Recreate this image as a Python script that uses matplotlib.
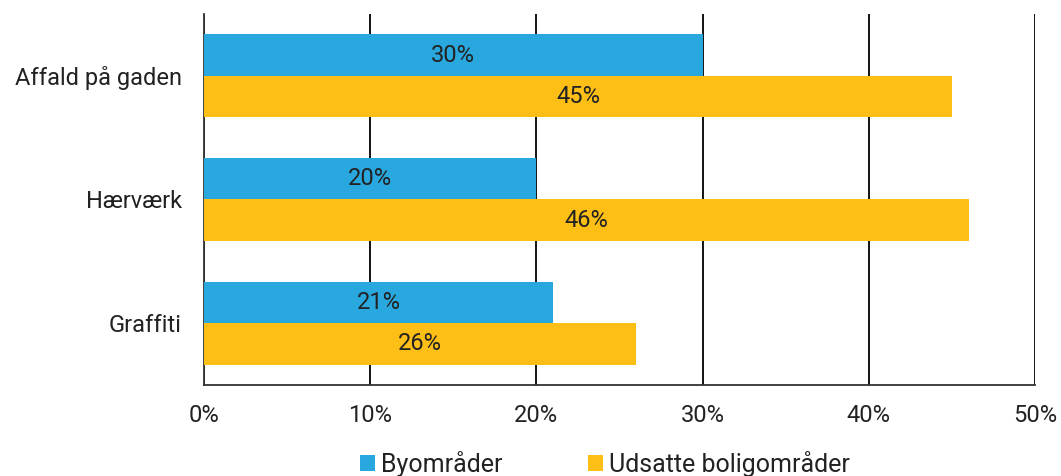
import matplotlib.pyplot as plt
import numpy as np

categories = ['Affald på gaden', 'Hærværk', 'Graffiti']
byomraader = [30, 20, 21]
udsatte = [45, 46, 26]
series_names = ['Byområder', 'Udsatte boligområder']
xticks = [0, 10, 20, 30, 40, 50]

blue = '#29a8e0'
yellow = '#fdbe16'
text_color = '#222222'

plt.rcParams['font.family'] = ['Roboto', 'DejaVu Sans']

fig = plt.figure(figsize=(10.61, 4.76), dpi=100)
ax = fig.add_axes([0.1923, 0.1912, 0.7832, 0.7794])

y = np.arange(len(categories))
h = 0.335
ax.barh(y - h / 2, byomraader, height=h, color=blue, zorder=3, label=series_names[0])
ax.barh(y + h / 2, udsatte, height=h, color=yellow, zorder=3, label=series_names[1])

fs = 17
for yi, v in zip(y, byomraader):
    ax.text(v / 2, yi - h / 2, f'{v}%', ha='center', va='center', fontsize=fs, color=text_color, zorder=4)
for yi, v in zip(y, udsatte):
    ax.text(v / 2, yi + h / 2, f'{v}%', ha='center', va='center', fontsize=fs, color=text_color, zorder=4)

ax.set_xlim(0, 50)
ax.set_ylim(2.5, -0.5)
ax.set_yticks(y)
ax.set_yticklabels(categories, fontsize=fs, color=text_color)
ax.set_xticks(xticks)
ax.set_xticklabels([f'{t}%' for t in xticks], fontsize=fs, color=text_color)
ax.tick_params(axis='both', length=0)
ax.tick_params(axis='x', pad=14)
ax.tick_params(axis='y', pad=16)

ax.grid(True, axis='x', color='black', linewidth=1.3, zorder=0)
for s in ['top', 'right']:
    ax.spines[s].set_visible(False)
ax.spines['left'].set_color('#333333')
ax.spines['bottom'].set_color('#333333')
ax.spines['left'].set_linewidth(1.3)
ax.spines['bottom'].set_linewidth(1.3)

fig.legend(loc='center', bbox_to_anchor=(0.57, 0.025), ncol=2, frameon=False,
           fontsize=18, handlelength=0.6, handleheight=0.6, handletextpad=0.25,
           columnspacing=3.4, labelcolor=text_color)

fig.savefig('out.png', dpi=100)
